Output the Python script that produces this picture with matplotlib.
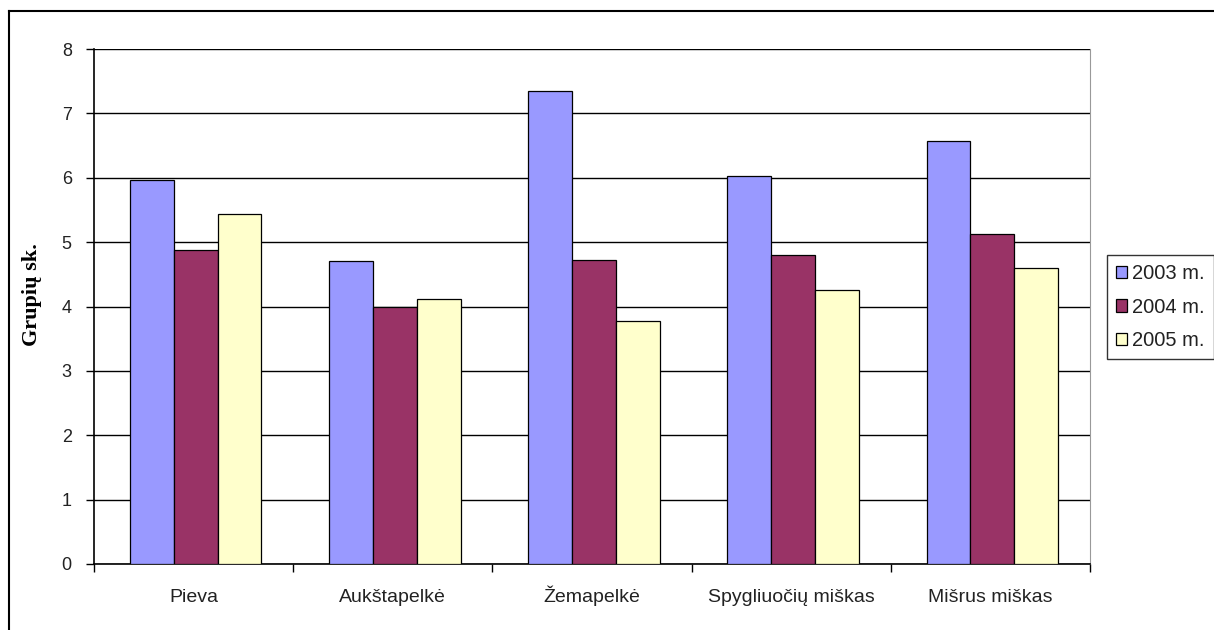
import matplotlib.pyplot as plt
import numpy as np
from matplotlib.lines import Line2D
from matplotlib.transforms import blended_transform_factory, offset_copy

# grupių skaičius pagal buveines ir metus
buveines = ['Pieva', 'Aukštapelkė', 'Žemapelkė', 'Spygliuočių miškas', 'Mišrus miškas']
metai = ['2003 m.', '2004 m.', '2005 m.']
v2003 = [5.97, 4.70, 7.35, 6.02, 6.57]
v2004 = [4.87, 4.00, 4.72, 4.80, 5.13]
v2005 = [5.43, 4.12, 3.78, 4.25, 4.60]
spalvos = ['#9999FF', '#993366', '#FFFFCC']

W, H = 1214, 630
fig = plt.figure(figsize=(W / 100, H / 100), dpi=100)
fig.patch.set_facecolor('white')

# ašių vieta pikseliais
x0, x1, y0, y1 = 94, 1090, 564, 49
ax = fig.add_axes([x0 / W, 1 - y0 / H, (x1 - x0) / W, (y0 - y1) / H])

x = np.arange(len(buveines))
bw = 0.22
for i, (vals, c, lab) in enumerate(zip([v2003, v2004, v2005], spalvos, metai)):
    ax.bar(x + (i - 1) * bw + 0.01, vals, bw, color=c, edgecolor='black', linewidth=0.9,
           label=lab, zorder=3)

ax.set_xlim(-0.5, len(buveines) - 0.5)
ax.set_ylim(0, 8)
ax.set_yticks(range(0, 9))
ax.yaxis.grid(True, color='black', linewidth=1.0, zorder=0)
ax.set_axisbelow(True)

# kategorijų žymės tarp grupių, pavadinimai po grupėmis
ax.set_xticks(np.arange(-0.5, len(buveines)))
ax.set_xticklabels([])
ax.tick_params(axis='x', length=6, width=1, direction='out')
trans = offset_copy(blended_transform_factory(ax.transData, ax.transAxes),
                    fig=fig, x=0, y=-38, units='dots')
for xi, name in zip(x, buveines):
    ax.text(xi, 0, name, transform=trans, ha='center', va='baseline',
            fontsize=14, family='Liberation Sans', color='#222222')

ax.tick_params(axis='y', length=6, width=1, direction='out', labelsize=13, pad=10)
for t in ax.get_yticklabels():
    t.set_family('Liberation Sans')
    t.set_color('#222222')

ax.spines['top'].set_visible(False)
ax.spines['right'].set_color('#999999')
ax.spines['left'].set_linewidth(1.2)
ax.spines['bottom'].set_linewidth(1.2)

ax.set_ylabel('Grupių sk.', fontsize=16, fontweight='bold', family='Liberation Serif')
ax.yaxis.set_label_coords(-0.062, 0.524)
ax.yaxis.label.set_va('center')

leg = ax.legend(loc='upper left', bbox_to_anchor=(1.017, 0.60), frameon=True,
                fancybox=False, edgecolor='black', fontsize=14.5,
                handlelength=0.55, handleheight=0.55, handletextpad=0.25,
                labelspacing=0.72, borderpad=0.45, borderaxespad=0)
leg.get_frame().set_linewidth(1.0)
for t in leg.get_texts():
    t.set_family('Liberation Sans')
    t.set_color('#222222')

# rėmelis aplink diagramą
fig.add_artist(Line2D([9 / W, 1], [1 - 11 / H, 1 - 11 / H], color='black', lw=1.5,
                      transform=fig.transFigure))
fig.add_artist(Line2D([9 / W, 9 / W], [1 - 11 / H, 0], color='black', lw=1.5,
                      transform=fig.transFigure))

fig.savefig('out.png', dpi=100)
